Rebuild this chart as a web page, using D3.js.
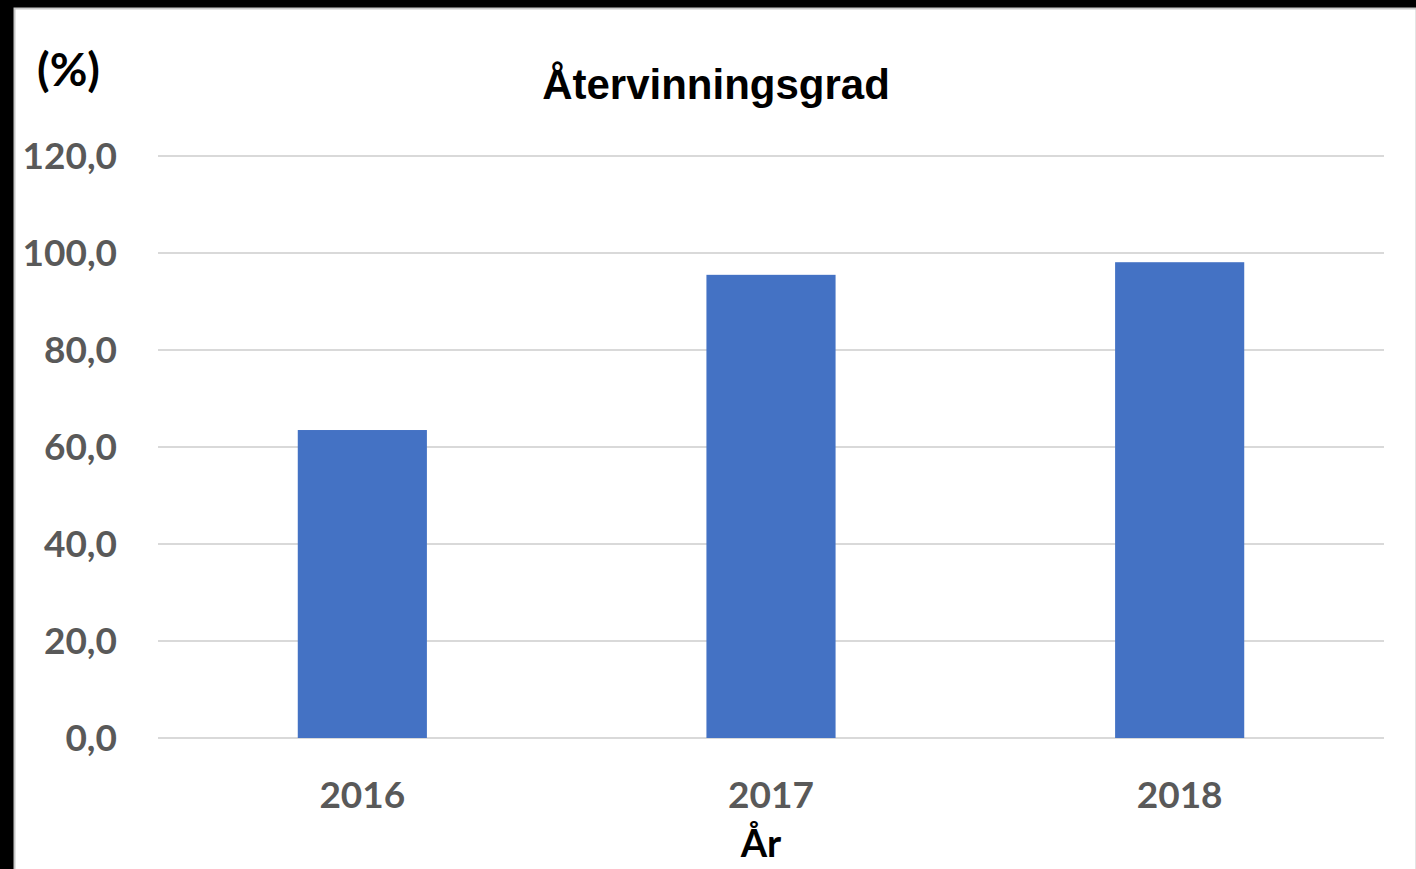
<!DOCTYPE html>
<html lang="sv">
<head>
  <meta charset="UTF-8">
  <title>Återvinningsgrad</title>
  <script src="https://d3js.org/d3.v7.min.js"></script>
  <style>
    html, body { margin: 0; padding: 0; background: #000; }
    svg { display: block; }
    text { font-family: Lato, "Open Sans", sans-serif; font-weight: bold; }
    text.arial { font-family: "Liberation Sans", Arial, sans-serif; }
  </style>
</head>
<body>
  <svg id="chart" width="1416" height="869"></svg>

  <script>
    const years = ["2016", "2017", "2018"];
    const rates = [63.5, 95.5, 98.1];
    const yTicks = [0, 20, 40, 60, 80, 100, 120];

    const width = 1416;
    const height = 869;
    const margin = { top: 156, right: 32, bottom: 131, left: 158 };

    const svg = d3.select("#chart");

    // white panel with thin grey frame
    svg.append("rect")
      .attr("x", 14.5).attr("y", 8.5)
      .attr("width", width - 14).attr("height", height)
      .attr("fill", "#fff")
      .attr("stroke", "#c8c8c8")
      .attr("stroke-width", 2);

    const x = d3.scaleBand()
      .domain(years)
      .range([margin.left, width - margin.right])
      .paddingInner(0.684)
      .paddingOuter(0.342);

    const y = d3.scaleLinear()
      .domain([0, 120])
      .range([height - margin.bottom, margin.top]);

    // gridlines
    svg.append("g")
      .selectAll("line")
      .data(yTicks)
      .join("line")
      .attr("x1", margin.left)
      .attr("x2", width - margin.right)
      .attr("y1", d => y(d))
      .attr("y2", d => y(d))
      .attr("stroke", "#d9d9d9")
      .attr("stroke-width", 2);

    // y labels
    svg.append("g")
      .selectAll("text")
      .data(yTicks)
      .join("text")
      .attr("x", 117)
      .attr("y", d => y(d))
      .attr("dy", "0.36em")
      .attr("text-anchor", "end")
      .attr("fill", "#595959")
      .style("font-size", "37px")
      .text(d => d.toFixed(1).replace(".", ","));

    // bars
    svg.append("g")
      .selectAll("rect")
      .data(years.map((yr, i) => ({ yr, v: rates[i] })))
      .join("rect")
      .attr("x", d => x(d.yr))
      .attr("y", d => y(d.v))
      .attr("width", x.bandwidth())
      .attr("height", d => y(0) - y(d.v))
      .attr("fill", "#4472c4");

    // x labels
    svg.append("g")
      .selectAll("text")
      .data(years)
      .join("text")
      .attr("x", d => x(d) + x.bandwidth() / 2)
      .attr("y", 808)
      .attr("text-anchor", "middle")
      .attr("fill", "#595959")
      .style("font-size", "37px")
      .text(d => d);

    svg.append("text")
      .attr("class", "arial")
      .attr("x", 716).attr("y", 99)
      .attr("text-anchor", "middle")
      .attr("fill", "#000")
      .style("font-size", "42px")
      .text("Återvinningsgrad");

    svg.append("text")
      .attr("x", 37).attr("y", 86)
      .attr("fill", "#000")
      .style("font-size", "46px")
      .text("(%)");

    svg.append("text")
      .attr("x", 761).attr("y", 857)
      .attr("text-anchor", "middle")
      .attr("fill", "#000")
      .style("font-size", "38px")
      .text("År");
  </script>
</body>
</html>
